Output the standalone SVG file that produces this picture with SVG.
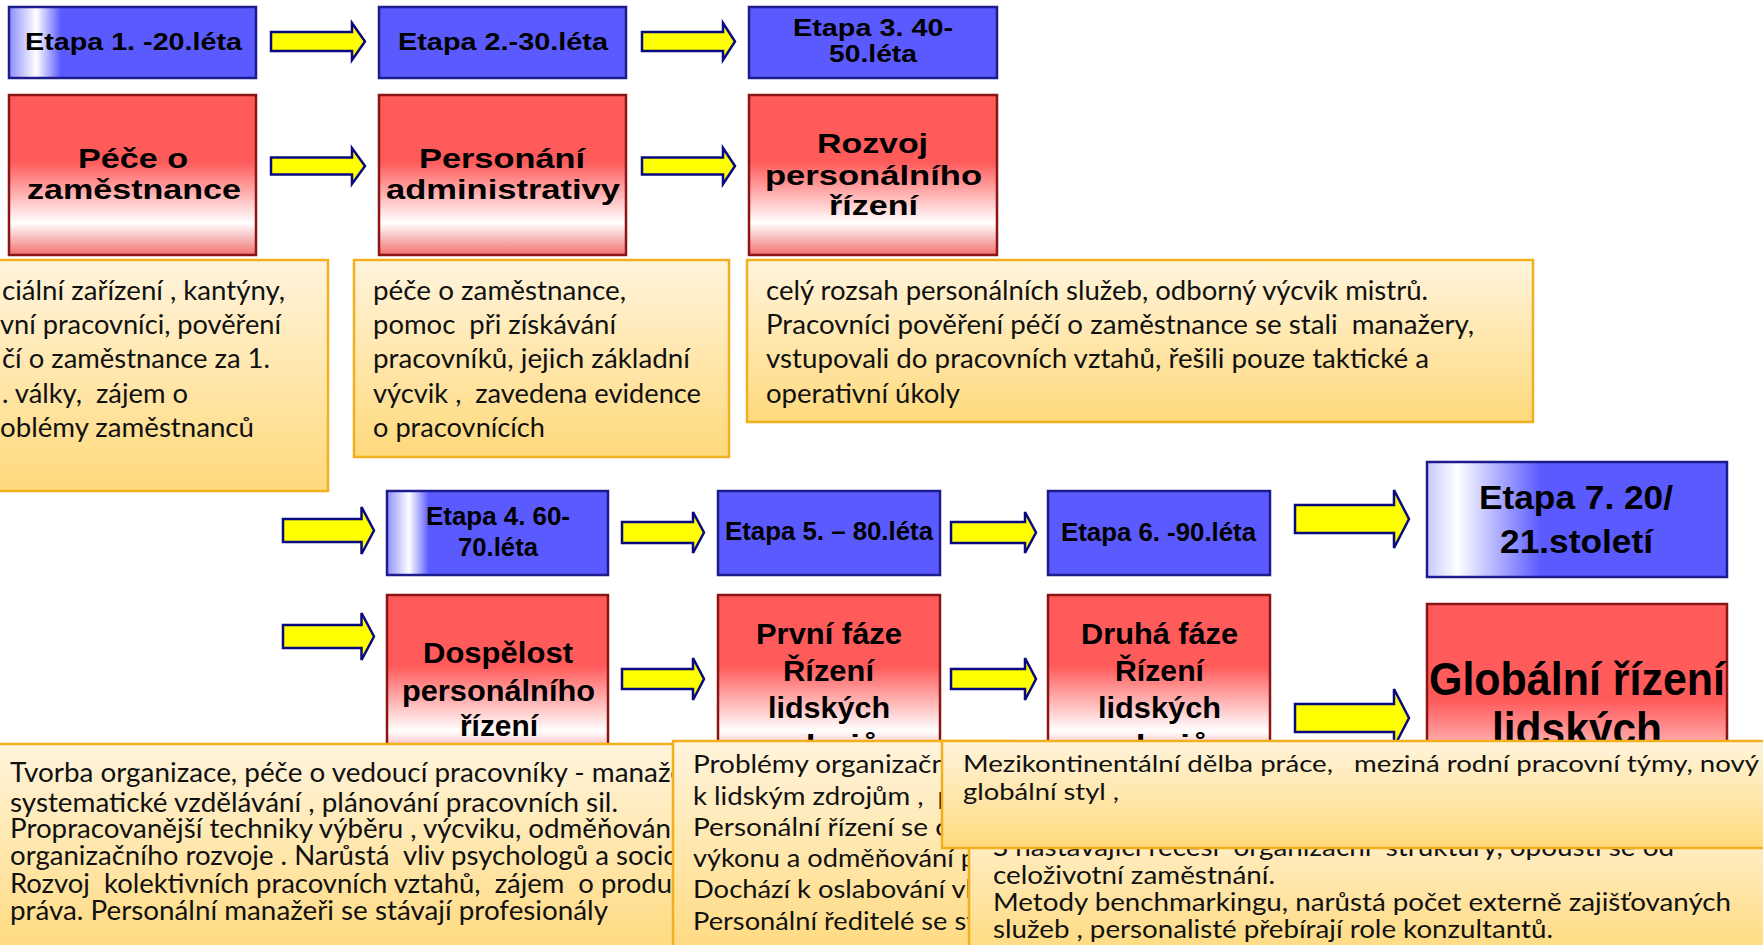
<svg xmlns="http://www.w3.org/2000/svg" width="1763" height="945" viewBox="0 0 1763 945">
<defs>
<linearGradient id="gRed" x1="0" y1="0" x2="0" y2="1"><stop offset="0" stop-color="#FF5B5B"/><stop offset="0.42" stop-color="#FF5B5B"/><stop offset="0.8" stop-color="#FFFFFF"/><stop offset="1" stop-color="#F07070"/></linearGradient>
<linearGradient id="gTxt" x1="0" y1="0" x2="0" y2="1"><stop offset="0" stop-color="#FFF4DC"/><stop offset="1" stop-color="#FFD97C"/></linearGradient>
<linearGradient id="gB1" x1="0" y1="0" x2="1" y2="0"><stop offset="0" stop-color="#8C8CFF"/><stop offset="0.11" stop-color="#FFFFFF"/><stop offset="0.21" stop-color="#5A5AFF"/><stop offset="1" stop-color="#5A5AFF"/></linearGradient>
<linearGradient id="gB4" x1="0" y1="0" x2="1" y2="0"><stop offset="0" stop-color="#9090FF"/><stop offset="0.1" stop-color="#FFFFFF"/><stop offset="0.19" stop-color="#5A5AFF"/><stop offset="1" stop-color="#5A5AFF"/></linearGradient>
<linearGradient id="gB7" x1="0" y1="0" x2="1" y2="0"><stop offset="0" stop-color="#C8C8FF"/><stop offset="0.1" stop-color="#FFFFFF"/><stop offset="0.38" stop-color="#5A5AFF"/><stop offset="1" stop-color="#5A5AFF"/></linearGradient>
<style>
.blue{fill:#5A5AFF;stroke:#1C1C8C;stroke-width:2.5}
.red{fill:url(#gRed);stroke:#8B1414;stroke-width:2.5}
.tb{fill:url(#gTxt);stroke:#F2B01E;stroke-width:2.5}
.arr{fill:#FFFF00;stroke:#0A0A80;stroke-width:2.5;stroke-linejoin:miter}
.h{font-family:"Liberation Sans",Arial,sans-serif;font-weight:bold;fill:#000}
.t{font-family:Lato,"Liberation Sans",sans-serif;fill:#111;white-space:pre}
</style>
</defs>
<rect width="1763" height="945" fill="#FFFFFF"/>

<!-- top row stages -->
<g id="etapa1"><rect class="blue" x="9" y="7" width="247" height="71" style="fill:url(#gB1)"/><text class="h" x="25" y="50" font-size="23" textLength="217" lengthAdjust="spacingAndGlyphs">Etapa 1. -20.léta</text></g>
<g id="etapa2"><rect class="blue" x="379" y="7" width="247" height="71"/><text class="h" x="398" y="50" font-size="23" textLength="210" lengthAdjust="spacingAndGlyphs">Etapa 2.-30.léta</text></g>
<g id="etapa3"><rect class="blue" x="749" y="7" width="248" height="71"/><text class="h" x="793" y="36" font-size="23" textLength="160" lengthAdjust="spacingAndGlyphs">Etapa 3. 40-</text><text class="h" x="829" y="62" font-size="23" textLength="88" lengthAdjust="spacingAndGlyphs">50.léta</text></g>

<g id="pece"><rect class="red" x="9" y="95" width="247" height="160"/><text class="h" x="78" y="168" font-size="28" textLength="110" lengthAdjust="spacingAndGlyphs">Péče o</text><text class="h" x="27" y="199" font-size="28" textLength="214" lengthAdjust="spacingAndGlyphs">zaměstnance</text></g>
<g id="personani"><rect class="red" x="379" y="95" width="247" height="160"/><text class="h" x="419" y="168" font-size="28" textLength="166" lengthAdjust="spacingAndGlyphs">Personání</text><text class="h" x="386" y="199" font-size="28" textLength="234" lengthAdjust="spacingAndGlyphs">administrativy</text></g>
<g id="rozvoj"><rect class="red" x="749" y="95" width="248" height="160"/><text class="h" x="817" y="153" font-size="28" textLength="111" lengthAdjust="spacingAndGlyphs">Rozvoj</text><text class="h" x="765" y="185" font-size="28" textLength="217" lengthAdjust="spacingAndGlyphs">personálního</text><text class="h" x="829" y="215" font-size="28" textLength="89" lengthAdjust="spacingAndGlyphs">řízení</text></g>

<!-- second row stages -->
<g id="etapa4"><rect class="blue" x="387" y="491" width="221" height="84" style="fill:url(#gB4)"/><text class="h" x="426" y="525" font-size="25" textLength="144" lengthAdjust="spacingAndGlyphs">Etapa 4. 60-</text><text class="h" x="458" y="556" font-size="25" textLength="80" lengthAdjust="spacingAndGlyphs">70.léta</text></g>
<g id="etapa5"><rect class="blue" x="718" y="491" width="222" height="84"/><text class="h" x="725" y="540" font-size="25" textLength="208" lengthAdjust="spacingAndGlyphs">Etapa 5. – 80.léta</text></g>
<g id="etapa6"><rect class="blue" x="1048" y="491" width="222" height="84"/><text class="h" x="1061" y="541" font-size="25" textLength="195" lengthAdjust="spacingAndGlyphs">Etapa 6. -90.léta</text></g>
<g id="etapa7"><rect class="blue" x="1427" y="462" width="300" height="115" style="fill:url(#gB7)"/><text class="h" x="1479" y="509" font-size="33" textLength="194" lengthAdjust="spacingAndGlyphs">Etapa 7. 20/</text><text class="h" x="1500" y="553" font-size="33" textLength="153" lengthAdjust="spacingAndGlyphs">21.století</text></g>

<g id="dospelost"><rect class="red" x="387" y="595" width="221" height="170"/><text class="h" x="423" y="663" font-size="30" textLength="150" lengthAdjust="spacingAndGlyphs">Dospělost</text><text class="h" x="402" y="701" font-size="30" textLength="193" lengthAdjust="spacingAndGlyphs">personálního</text><text class="h" x="460" y="736" font-size="30" textLength="78" lengthAdjust="spacingAndGlyphs">řízení</text></g>
<g id="prvni"><rect class="red" x="718" y="595" width="222" height="170"/><text class="h" x="756" y="644" font-size="30" textLength="146" lengthAdjust="spacingAndGlyphs">První fáze</text><text class="h" x="783" y="681" font-size="30" textLength="91" lengthAdjust="spacingAndGlyphs">Řízení</text><text class="h" x="768" y="718" font-size="30" textLength="122" lengthAdjust="spacingAndGlyphs">lidských</text><text class="h" x="777" y="756" font-size="30" textLength="104" lengthAdjust="spacingAndGlyphs">zdrojů</text></g>
<g id="druha"><rect class="red" x="1048" y="595" width="222" height="170"/><text class="h" x="1081" y="644" font-size="30" textLength="157" lengthAdjust="spacingAndGlyphs">Druhá fáze</text><text class="h" x="1115" y="681" font-size="30" textLength="89" lengthAdjust="spacingAndGlyphs">Řízení</text><text class="h" x="1098" y="718" font-size="30" textLength="123" lengthAdjust="spacingAndGlyphs">lidských</text><text class="h" x="1107" y="756" font-size="30" textLength="104" lengthAdjust="spacingAndGlyphs">zdrojů</text></g>
<g id="globalni"><rect class="red" x="1427" y="604" width="300" height="230"/><text class="h" x="1429" y="695" font-size="46" textLength="296" lengthAdjust="spacingAndGlyphs">Globální řízení</text><text class="h" x="1492" y="745" font-size="46" textLength="170" lengthAdjust="spacingAndGlyphs">lidských</text></g>

<!-- connectors -->
<g id="connectors">
<path class="arr" d="M271,32 H352 V23 L365,41.5 L352,60 V51 H271 Z"/>
<path class="arr" d="M642,32 H723 V23 L735,41.5 L723,60 V51 H642 Z"/>
<path class="arr" d="M271,157.5 H352 V148 L365,166 L352,184 V174.5 H271 Z"/>
<path class="arr" d="M642,157.5 H723 V148 L735,166 L723,184 V174.5 H642 Z"/>
<path class="arr" d="M283,519 H361.5 V507 L374,530.5 L361.5,554 V542 H283 Z"/>
<path class="arr" d="M283,625 H361.5 V613 L374,636.5 L361.5,660 V648 H283 Z"/>
<path class="arr" d="M622,522 H693 V512 L704,532.5 L693,553 V543 H622 Z"/>
<path class="arr" d="M951,522 H1025 V512 L1036,532.5 L1025,553 V543 H951 Z"/>
<path class="arr" d="M622,669 H693 V658 L704,679 L693,700 V689 H622 Z"/>
<path class="arr" d="M951,669 H1025 V658 L1036,679 L1025,700 V689 H951 Z"/>
<path class="arr" d="M1295,505 H1394 V490 L1409,519 L1394,548 V533 H1295 Z"/>
<path class="arr" d="M1295,704 H1394 V689 L1409,718 L1394,747 V732 H1295 Z"/>
</g>

<!-- description boxes row 1 -->
<g id="popisA"><rect class="tb" x="-5" y="260" width="333" height="231"/>
<text class="t" font-size="27" x="2" y="300" textLength="283" lengthAdjust="spacingAndGlyphs">ciální zařízení , kantýny,</text>
<text class="t" font-size="27" x="0" y="334" textLength="281" lengthAdjust="spacingAndGlyphs">vní pracovníci, pověření</text>
<text class="t" font-size="27" x="2" y="368" textLength="268" lengthAdjust="spacingAndGlyphs">čí o zaměstnance za 1.</text>
<text class="t" font-size="27" x="2" y="403" textLength="186" lengthAdjust="spacingAndGlyphs">. války,  zájem o</text>
<text class="t" font-size="27" x="0" y="437" textLength="254" lengthAdjust="spacingAndGlyphs">oblémy zaměstnanců</text>
</g>
<g id="popisB"><rect class="tb" x="354" y="260" width="375" height="197"/>
<text class="t" font-size="27" x="373" y="300" textLength="253" lengthAdjust="spacingAndGlyphs">péče o zaměstnance,</text>
<text class="t" font-size="27" x="373" y="334" textLength="243" lengthAdjust="spacingAndGlyphs">pomoc  při získávání</text>
<text class="t" font-size="27" x="373" y="368" textLength="317" lengthAdjust="spacingAndGlyphs">pracovníků, jejich základní</text>
<text class="t" font-size="27" x="373" y="403" textLength="328" lengthAdjust="spacingAndGlyphs">výcvik ,  zavedena evidence</text>
<text class="t" font-size="27" x="373" y="437" textLength="172" lengthAdjust="spacingAndGlyphs">o pracovnících</text>
</g>
<g id="popisC"><rect class="tb" x="747" y="260" width="786" height="162"/>
<text class="t" font-size="27" x="766" y="300" textLength="662" lengthAdjust="spacingAndGlyphs">celý rozsah personálních služeb, odborný výcvik mistrů.</text>
<text class="t" font-size="27" x="766" y="334" textLength="708" lengthAdjust="spacingAndGlyphs">Pracovníci pověření péčí o zaměstnance se stali  manažery,</text>
<text class="t" font-size="27" x="766" y="368" textLength="663" lengthAdjust="spacingAndGlyphs">vstupovali do pracovních vztahů, řešili pouze taktické a</text>
<text class="t" font-size="27" x="766" y="403" textLength="194" lengthAdjust="spacingAndGlyphs">operativní úkoly</text>
</g>

<!-- description boxes row 2 -->
<g id="popisD"><rect class="tb" x="-5" y="744" width="720" height="215"/>
<text class="t" font-size="27" x="10" y="782" textLength="675" lengthAdjust="spacingAndGlyphs">Tvorba organizace, péče o vedoucí pracovníky - manaže</text>
<text class="t" font-size="27" x="10" y="812" textLength="608" lengthAdjust="spacingAndGlyphs">systematické vzdělávání , plánování pracovních sil.</text>
<text class="t" font-size="27" x="10" y="838" textLength="661" lengthAdjust="spacingAndGlyphs">Propracovanější techniky výběru , výcviku, odměňován</text>
<text class="t" font-size="27" x="10" y="865" textLength="669" lengthAdjust="spacingAndGlyphs">organizačního rozvoje . Narůstá  vliv psychologů a socio</text>
<text class="t" font-size="27" x="10" y="893" textLength="662" lengthAdjust="spacingAndGlyphs">Rozvoj  kolektivních pracovních vztahů,  zájem  o produ</text>
<text class="t" font-size="27" x="10" y="920" textLength="598" lengthAdjust="spacingAndGlyphs">práva. Personální manažeři se stávají profesionály</text>
</g>
<g id="popisE"><rect class="tb" x="673" y="741" width="340" height="220"/>
<text class="t" font-size="25" x="693" y="773" textLength="254" lengthAdjust="spacingAndGlyphs">Problémy organizačn</text>
<text class="t" font-size="25" x="693" y="805" textLength="260" lengthAdjust="spacingAndGlyphs">k lidským zdrojům ,  p</text>
<text class="t" font-size="25" x="693" y="836" textLength="258" lengthAdjust="spacingAndGlyphs">Personální řízení se o</text>
<text class="t" font-size="25" x="693" y="867" textLength="283" lengthAdjust="spacingAndGlyphs">výkonu a odměňování p</text>
<text class="t" font-size="25" x="693" y="898" textLength="279" lengthAdjust="spacingAndGlyphs">Dochází k oslabování vl</text>
<text class="t" font-size="25" x="693" y="930" textLength="283" lengthAdjust="spacingAndGlyphs">Personální ředitelé se st</text>
</g>
<g id="popisF"><rect class="tb" x="969" y="800" width="800" height="160"/>
<text class="t" font-size="25" x="993" y="856" textLength="681" lengthAdjust="spacingAndGlyphs">S nastávající recesí  organizační  struktury, opouští se od</text>
<text class="t" font-size="25" x="993" y="884" textLength="282" lengthAdjust="spacingAndGlyphs">celoživotní zaměstnání.</text>
<text class="t" font-size="25" x="993" y="911" textLength="738" lengthAdjust="spacingAndGlyphs">Metody benchmarkingu, narůstá počet externě zajišťovaných</text>
<text class="t" font-size="25" x="993" y="938" textLength="560" lengthAdjust="spacingAndGlyphs">služeb , personalisté přebírají role konzultantů.</text>
</g>
<g id="popisG"><rect class="tb" x="942" y="741" width="830" height="107"/>
<text class="t" font-size="24" x="963" y="772" textLength="796" lengthAdjust="spacingAndGlyphs">Mezikontinentální dělba práce,   meziná rodní pracovní týmy, nový</text>
<text class="t" font-size="24" x="963" y="800" textLength="156" lengthAdjust="spacingAndGlyphs">globální styl ,</text>
</g>
</svg>
